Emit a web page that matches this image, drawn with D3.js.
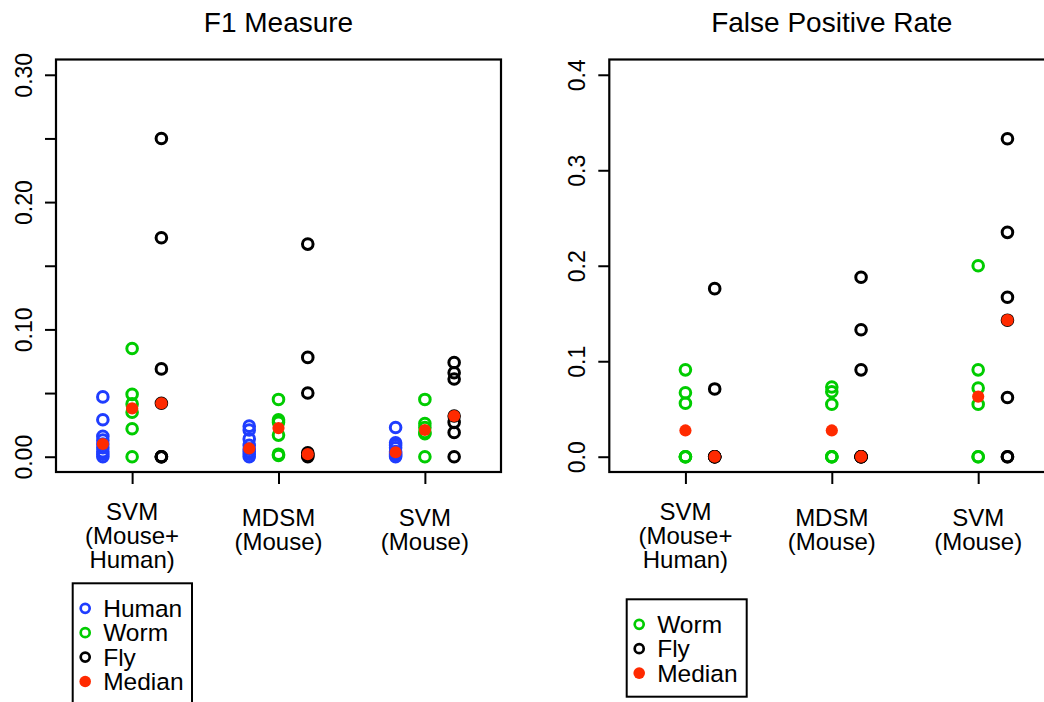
<!DOCTYPE html>
<html>
<head>
<meta charset="utf-8">
<script src="https://cdn.jsdelivr.net/npm/d3@7"></script>
<style>
  body { margin: 0; background: #fff; }
  svg { display: block; font-family: "Liberation Sans", Arial, Helvetica, sans-serif; }
</style>
</head>
<body>
<div id="chart"></div>
<script>
// categories (methods) along the x axis
var methods = [["SVM", "(Mouse+", "Human)"], ["MDSM", "(Mouse)"], ["SVM", "(Mouse)"]];

// F1 measure, one list per method
var f1Human = [
    [0.047, 0.029, 0.016, 0.013, 0.010, 0.007, 0.004, 0.002, 0.000],
    [0.024, 0.021, 0.014, 0.009, 0.006, 0.004, 0.002, 0.000],
    [0.023, 0.011, 0.009, 0.007, 0.004, 0.003, 0.002, 0.001, 0.000]
];
var f1Worm = [
    [0.085, 0.049, 0.0415, 0.035, 0.022, 0.000],
    [0.045, 0.029, 0.027, 0.017, 0.002, 0.001],
    [0.045, 0.026, 0.023, 0.019, 0.018, 0.000]
];
var f1Fly = [
    [0.250, 0.172, 0.069, 0.042, 0.000, 0.000, 0.000],
    [0.167, 0.078, 0.050, 0.003, 0.002, 0.001, 0.000],
    [0.074, 0.066, 0.061, 0.032, 0.027, 0.019, 0.000]
];
var f1Median = { human: [0.010, 0.0065, 0.0035], worm: [0.038, 0.0225, 0.021], fly: [0.042, 0.002, 0.032] };

// false positive rate, one list per method
var fprWorm = [
    [0.091, 0.067, 0.056, 0.000, 0.000, 0.000],
    [0.073, 0.068, 0.055, 0.000, 0.000, 0.000],
    [0.200, 0.091, 0.072, 0.055, 0.000, 0.000]
];
var fprFly = [
    [0.176, 0.071, 0.000, 0.000, 0.000, 0.000],
    [0.188, 0.133, 0.091, 0.000, 0.000, 0.000, 0.000],
    [0.333, 0.235, 0.167, 0.143, 0.062, 0.000, 0.000]
];
var fprMedian = { worm: [0.0275, 0.0275, 0.063], fly: [0.000, 0.000, 0.143] };

var f1Ticks = [0, 0.05, 0.10, 0.15, 0.20, 0.25, 0.30];
var f1Labels = ["0.00", "", "0.10", "", "0.20", "", "0.30"];
var fprTicks = [0, 0.1, 0.2, 0.3, 0.4];
var fprLabels = ["0.0", "0.1", "0.2", "0.3", "0.4"];

var colHuman = "#1f3dff", colWorm = "#00cc00", colFly = "#000000", colMedian = "#ff2a00";

var W = 1044, H = 702;
var svg = d3.select("#chart").append("svg").attr("width", W).attr("height", H);

function panel(opt) {
    var x = d3.scaleLinear().domain([-0.52, 2.52]).range([opt.left, opt.left + 445]);
    var y = d3.scaleLinear().domain(opt.ydom).range([472, 59.5]);
    var g = svg.append("g");

    // title
    g.append("text")
        .attr("x", x(1)).attr("y", 32)
        .attr("text-anchor", "middle")
        .attr("font-size", 28)
        .text(opt.title);

    // y axis with rotated labels
    var ya = g.append("g")
        .attr("transform", "translate(" + opt.left + ",0)")
        .call(d3.axisLeft(y).tickValues(opt.ticks).tickSize(11)
            .tickFormat((d, i) => opt.labels[i]));
    ya.select(".domain").remove();
    ya.selectAll("line").attr("stroke", "#000").attr("stroke-width", 2);
    ya.selectAll("text")
        .attr("transform", "rotate(-90)")
        .attr("x", 0).attr("y", -24).attr("dy", null)
        .attr("text-anchor", "middle")
        .attr("font-size", 23)
        .attr("font-family", null)
        .attr("fill", "#000");

    // x axis ticks and multi-line labels
    var xa = g.append("g")
        .attr("transform", "translate(0,472)")
        .call(d3.axisBottom(x).tickValues([0, 1, 2]).tickSize(12).tickFormat(""));
    xa.select(".domain").remove();
    xa.selectAll("line").attr("stroke", "#000").attr("stroke-width", 2);

    methods.forEach(function(lines, i) {
        var y0 = lines.length === 3 ? 520 : 526;
        var t = g.append("text")
            .attr("text-anchor", "middle")
            .attr("font-size", 24);
        lines.forEach(function(s, k) {
            t.append("tspan").attr("x", x(i)).attr("y", y0 + k * 24.2).text(s);
        });
    });

    // points
    opt.series.forEach(function(s) {
        s.values.forEach(function(vals, i) {
            g.selectAll(null)
                .data(vals)
                .enter()
                .append("circle")
                .attr("cx", x(i + s.offset))
                .attr("cy", d => y(d))
                .attr("r", 5.3)
                .attr("fill", "none")
                .attr("stroke", s.color)
                .attr("stroke-width", 3);
        });
    });
    opt.series.forEach(function(s) {
        g.selectAll(null)
            .data(s.median)
            .enter()
            .append("circle")
            .attr("cx", (d, i) => x(i + s.offset))
            .attr("cy", d => y(d))
            .attr("r", 6.1)
            .attr("fill", colMedian);
    });

    // box
    g.append("rect")
        .attr("x", opt.left).attr("y", 59.5)
        .attr("width", 445).attr("height", 412.5)
        .attr("fill", "none")
        .attr("stroke", "#000")
        .attr("stroke-width", 2.2);

    // legend
    var lg = g.append("g");
    lg.append("rect")
        .attr("x", opt.legend.x).attr("y", opt.legend.y)
        .attr("width", opt.legend.w).attr("height", opt.legend.h)
        .attr("fill", "#fff").attr("stroke", "#000").attr("stroke-width", 2);
    var items = opt.series.map(s => ({ name: s.name, color: s.color, fill: false }))
        .concat([{ name: "Median", color: colMedian, fill: true }]);
    items.forEach(function(it, k) {
        var cy = opt.legend.y + 25 + k * 24.4;
        lg.append("circle")
            .attr("cx", opt.legend.x + 12.5).attr("cy", cy)
            .attr("r", it.fill ? 5.8 : 4.5)
            .attr("fill", it.fill ? it.color : "none")
            .attr("stroke", it.fill ? "none" : it.color)
            .attr("stroke-width", 2.7);
        lg.append("text")
            .attr("x", opt.legend.x + 30.5).attr("y", cy + 8.5)
            .attr("font-size", 24.5)
            .text(it.name);
    });
}

panel({
    title: "F1 Measure",
    left: 56,
    ydom: [-0.012, 0.312],
    ticks: f1Ticks,
    labels: f1Labels,
    series: [
        { name: "Human", color: colHuman, offset: -0.2, values: f1Human, median: f1Median.human },
        { name: "Worm", color: colWorm, offset: 0, values: f1Worm, median: f1Median.worm },
        { name: "Fly", color: colFly, offset: 0.2, values: f1Fly, median: f1Median.fly }
    ],
    legend: { x: 72.7, y: 583.3, w: 119.3, h: 125 }
});

panel({
    title: "False Positive Rate",
    left: 609.3,
    ydom: [-0.016, 0.416],
    ticks: fprTicks,
    labels: fprLabels,
    series: [
        { name: "Worm", color: colWorm, offset: 0, values: fprWorm, median: fprMedian.worm },
        { name: "Fly", color: colFly, offset: 0.2, values: fprFly, median: fprMedian.fly }
    ],
    legend: { x: 626.7, y: 599.3, w: 120, h: 97.4 }
});
</script>
</body>
</html>
